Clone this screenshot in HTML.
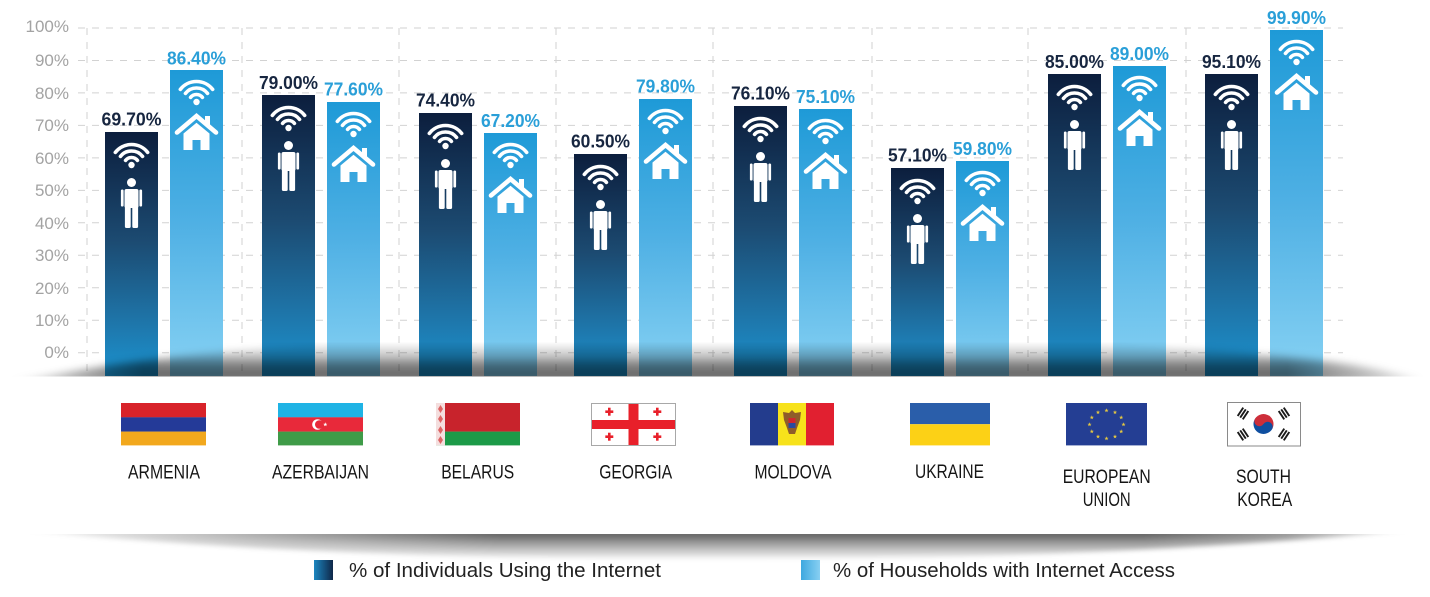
<!DOCTYPE html>
<html><head><meta charset="utf-8"><style>
html,body{margin:0;padding:0;background:#fff;}
svg{display:block;}
</style></head><body>
<svg width="1430" height="597" viewBox="0 0 1430 597" xmlns="http://www.w3.org/2000/svg">
<defs>
  <linearGradient id="gd" x1="0" y1="0" x2="0" y2="1">
    <stop offset="0" stop-color="#0c1e3d"/>
    <stop offset="0.45" stop-color="#1c4b72"/>
    <stop offset="0.8" stop-color="#1e78ad"/>
    <stop offset="1" stop-color="#1b92ce"/>
  </linearGradient>
  <linearGradient id="gl" x1="0" y1="0" x2="0" y2="1">
    <stop offset="0" stop-color="#1e9ad7"/>
    <stop offset="0.5" stop-color="#4fb0e4"/>
    <stop offset="1" stop-color="#86d1f3"/>
  </linearGradient>
  <linearGradient id="sd" x1="0" y1="0" x2="1" y2="0">
    <stop offset="0" stop-color="#1c86c0"/>
    <stop offset="1" stop-color="#0f2748"/>
  </linearGradient>
  <linearGradient id="sl" x1="0" y1="0" x2="1" y2="0">
    <stop offset="0" stop-color="#3ea8df"/>
    <stop offset="1" stop-color="#88cff2"/>
  </linearGradient>
  <linearGradient id="fsv" x1="0" y1="343" x2="0" y2="377" gradientUnits="userSpaceOnUse">
    <stop offset="0" stop-color="#000" stop-opacity="0.05"/>
    <stop offset="0.4" stop-color="#000" stop-opacity="0.22"/>
    <stop offset="0.65" stop-color="#000" stop-opacity="0.5"/>
    <stop offset="1" stop-color="#000" stop-opacity="0.6"/>
  </linearGradient>
  <linearGradient id="fh" x1="0" y1="0" x2="1430" y2="0" gradientUnits="userSpaceOnUse">
    <stop offset="0" stop-color="#000"/>
    <stop offset="0.1" stop-color="#fff"/>
    <stop offset="0.9" stop-color="#fff"/>
    <stop offset="1" stop-color="#000"/>
  </linearGradient>
  <mask id="fm"><rect x="0" y="300" width="1430" height="100" fill="url(#fh)"/></mask>
  <clipPath id="fc"><rect x="0" y="300" width="1430" height="76.5"/></clipPath>
  <filter id="fb" x="-5%" y="-50%" width="110%" height="200%"><feGaussianBlur stdDeviation="4"/></filter>
  <linearGradient id="bsv" x1="0" y1="534" x2="0" y2="560" gradientUnits="userSpaceOnUse">
    <stop offset="0" stop-color="#000" stop-opacity="0.62"/>
    <stop offset="0.3" stop-color="#000" stop-opacity="0.42"/>
    <stop offset="1" stop-color="#000" stop-opacity="0"/>
  </linearGradient>
  <linearGradient id="bh" x1="0" y1="0" x2="1430" y2="0" gradientUnits="userSpaceOnUse">
    <stop offset="0.007" stop-color="#000"/>
    <stop offset="0.18" stop-color="#888"/>
    <stop offset="0.35" stop-color="#fff"/>
    <stop offset="0.8" stop-color="#fff"/>
    <stop offset="0.9" stop-color="#aaa"/>
    <stop offset="0.993" stop-color="#000"/>
  </linearGradient>
  <mask id="bm"><rect x="0" y="520" width="1430" height="50" fill="url(#bh)"/></mask>
  <clipPath id="bc"><rect x="0" y="534" width="1430" height="40"/></clipPath>
  <filter id="bb" x="-5%" y="-50%" width="110%" height="200%"><feGaussianBlur stdDeviation="2.5"/></filter>

  <g id="wifi" fill="none" stroke="#fff" stroke-width="3.6" stroke-linecap="round">
    <path d="M -5.91 17.38 A 7.5 7.5 0 0 1 5.91 17.38"/>
    <path d="M -11.03 13.38 A 14 14 0 0 1 11.03 13.38"/>
    <path d="M -16.15 9.37 A 20.5 20.5 0 0 1 16.15 9.37"/>
    <circle cx="0" cy="22" r="3.2" fill="#fff" stroke="none"/>
  </g>
  <g id="person" fill="#fff">
    <circle cx="0" cy="4.5" r="4.5"/>
    <rect x="-7" y="11" width="14" height="19" rx="2"/>
    <rect x="-10.6" y="11.5" width="2.7" height="17" rx="1.3"/>
    <rect x="7.9" y="11.5" width="2.7" height="17" rx="1.3"/>
    <rect x="-6.6" y="28" width="5.8" height="22" rx="1.5"/>
    <rect x="0.8" y="28" width="5.8" height="22" rx="1.5"/>
  </g>
  <g id="house">
    <rect x="8.5" y="1" width="5" height="9" fill="#fff"/>
    <polyline points="-19.5,17.5 0,1 19.5,17.5" fill="none" stroke="#fff" stroke-width="4.6" stroke-linecap="round"/>
    <path d="M -13 18.5 L 0 7.8 L 13 18.5 L 13 35 L 4 35 L 4 25 L -4 25 L -4 35 L -13 35 Z" fill="#fff"/>
  </g>
  <polygon id="star" points="0,-2.2 0.53,-0.73 2.09,-0.68 0.86,0.28 1.29,1.78 0,0.9 -1.29,1.78 -0.86,0.28 -2.09,-0.68 -0.53,-0.73"/>
  <g id="tri" fill="#1a1a1a">
    <rect x="-5" y="-4" width="10" height="1.9"/>
    <rect x="-5" y="-0.95" width="10" height="1.9"/>
    <rect x="-5" y="2.1" width="10" height="1.9"/>
  </g>
</defs>

<!-- grid -->
<g stroke="#d2d2d2" stroke-width="1" stroke-dasharray="7 7" fill="none">
  <line x1="78" y1="28" x2="1343" y2="28"/>
  <line x1="78" y1="60.5" x2="1343" y2="60.5"/>
  <line x1="78" y1="92.9" x2="1343" y2="92.9"/>
  <line x1="78" y1="125.4" x2="1343" y2="125.4"/>
  <line x1="78" y1="157.9" x2="1343" y2="157.9"/>
  <line x1="78" y1="190.4" x2="1343" y2="190.4"/>
  <line x1="78" y1="222.8" x2="1343" y2="222.8"/>
  <line x1="78" y1="255.3" x2="1343" y2="255.3"/>
  <line x1="78" y1="287.8" x2="1343" y2="287.8"/>
  <line x1="78" y1="320.2" x2="1343" y2="320.2"/>
  <line x1="78" y1="352.7" x2="1343" y2="352.7"/>
  <line x1="87" y1="28" x2="87" y2="376"/>
  <line x1="242" y1="28" x2="242" y2="376"/>
  <line x1="399" y1="28" x2="399" y2="376"/>
  <line x1="556" y1="28" x2="556" y2="376"/>
  <line x1="713" y1="28" x2="713" y2="376"/>
  <line x1="872" y1="28" x2="872" y2="376"/>
  <line x1="1028" y1="28" x2="1028" y2="376"/>
  <line x1="1186" y1="28" x2="1186" y2="376"/>
</g>

<!-- y axis labels -->
<g font-family="Liberation Sans, Arial, sans-serif" font-size="17" fill="#a3a3a3" text-anchor="end">
  <text x="69" y="32">100%</text>
  <text x="69" y="66">90%</text>
  <text x="69" y="99">80%</text>
  <text x="69" y="131">70%</text>
  <text x="69" y="164">60%</text>
  <text x="69" y="196">50%</text>
  <text x="69" y="229">40%</text>
  <text x="69" y="261">30%</text>
  <text x="69" y="294">20%</text>
  <text x="69" y="326">10%</text>
  <text x="69" y="358">0%</text>
</g>

<!-- bars -->
<g>
  <rect x="105" y="132" width="53" height="244" fill="url(#gd)"/>
  <rect x="170" y="70" width="53" height="306" fill="url(#gl)"/>
  <rect x="262" y="95" width="53" height="281" fill="url(#gd)"/>
  <rect x="327" y="102" width="53" height="274" fill="url(#gl)"/>
  <rect x="419" y="113" width="53" height="263" fill="url(#gd)"/>
  <rect x="484" y="133" width="53" height="243" fill="url(#gl)"/>
  <rect x="574" y="154" width="53" height="222" fill="url(#gd)"/>
  <rect x="639" y="99" width="53" height="277" fill="url(#gl)"/>
  <rect x="734" y="106" width="53" height="270" fill="url(#gd)"/>
  <rect x="799" y="109" width="53" height="267" fill="url(#gl)"/>
  <rect x="891" y="168" width="53" height="208" fill="url(#gd)"/>
  <rect x="956" y="161" width="53" height="215" fill="url(#gl)"/>
  <rect x="1048" y="74" width="53" height="302" fill="url(#gd)"/>
  <rect x="1113" y="66" width="53" height="310" fill="url(#gl)"/>
  <rect x="1205" y="74" width="53" height="302" fill="url(#gd)"/>
  <rect x="1270" y="30" width="53" height="346" fill="url(#gl)"/>
</g>

<!-- icons -->
<g>
  <use href="#wifi" transform="translate(131.5,143)"/><use href="#person" transform="translate(131.5,178)"/>
  <use href="#wifi" transform="translate(196.5,80)"/><use href="#house" transform="translate(196.5,115)"/>
  <use href="#wifi" transform="translate(288.5,106)"/><use href="#person" transform="translate(288.5,141)"/>
  <use href="#wifi" transform="translate(353.5,112)"/><use href="#house" transform="translate(353.5,147)"/>
  <use href="#wifi" transform="translate(445.5,124)"/><use href="#person" transform="translate(445.5,159)"/>
  <use href="#wifi" transform="translate(510.5,143)"/><use href="#house" transform="translate(510.5,178)"/>
  <use href="#wifi" transform="translate(600.5,165)"/><use href="#person" transform="translate(600.5,200)"/>
  <use href="#wifi" transform="translate(665.5,109)"/><use href="#house" transform="translate(665.5,144)"/>
  <use href="#wifi" transform="translate(760.5,117)"/><use href="#person" transform="translate(760.5,152)"/>
  <use href="#wifi" transform="translate(825.5,119)"/><use href="#house" transform="translate(825.5,154)"/>
  <use href="#wifi" transform="translate(917.5,179)"/><use href="#person" transform="translate(917.5,214)"/>
  <use href="#wifi" transform="translate(982.5,171)"/><use href="#house" transform="translate(982.5,206)"/>
  <use href="#wifi" transform="translate(1074.5,85)"/><use href="#person" transform="translate(1074.5,120)"/>
  <use href="#wifi" transform="translate(1139.5,76)"/><use href="#house" transform="translate(1139.5,111)"/>
  <use href="#wifi" transform="translate(1231.5,85)"/><use href="#person" transform="translate(1231.5,120)"/>
  <use href="#wifi" transform="translate(1296.5,40)"/><use href="#house" transform="translate(1296.5,75)"/>
</g>

<!-- value labels -->
<g font-family="Liberation Sans, Arial, sans-serif" font-size="18.5" font-weight="bold" text-anchor="middle">
  <text x="131.5" y="125.5" fill="#172640" textLength="60" lengthAdjust="spacingAndGlyphs">69.70%</text>
  <text x="196.5" y="64.5" fill="#2a9fd8" textLength="59" lengthAdjust="spacingAndGlyphs">86.40%</text>
  <text x="288.5" y="89" fill="#172640" textLength="59" lengthAdjust="spacingAndGlyphs">79.00%</text>
  <text x="353.5" y="95.5" fill="#2a9fd8" textLength="59" lengthAdjust="spacingAndGlyphs">77.60%</text>
  <text x="445.5" y="106.5" fill="#172640" textLength="59" lengthAdjust="spacingAndGlyphs">74.40%</text>
  <text x="510.5" y="127" fill="#2a9fd8" textLength="59" lengthAdjust="spacingAndGlyphs">67.20%</text>
  <text x="600.5" y="147.5" fill="#172640" textLength="59" lengthAdjust="spacingAndGlyphs">60.50%</text>
  <text x="665.5" y="92.5" fill="#2a9fd8" textLength="59" lengthAdjust="spacingAndGlyphs">79.80%</text>
  <text x="760.5" y="99.5" fill="#172640" textLength="59" lengthAdjust="spacingAndGlyphs">76.10%</text>
  <text x="825.5" y="103" fill="#2a9fd8" textLength="59" lengthAdjust="spacingAndGlyphs">75.10%</text>
  <text x="917.5" y="161.5" fill="#172640" textLength="59" lengthAdjust="spacingAndGlyphs">57.10%</text>
  <text x="982.5" y="155" fill="#2a9fd8" textLength="59" lengthAdjust="spacingAndGlyphs">59.80%</text>
  <text x="1074.5" y="68" fill="#172640" textLength="59" lengthAdjust="spacingAndGlyphs">85.00%</text>
  <text x="1139.5" y="60" fill="#2a9fd8" textLength="59" lengthAdjust="spacingAndGlyphs">89.00%</text>
  <text x="1231.5" y="68" fill="#172640" textLength="59" lengthAdjust="spacingAndGlyphs">95.10%</text>
  <text x="1296.5" y="24" fill="#2a9fd8" textLength="59" lengthAdjust="spacingAndGlyphs">99.90%</text>
</g>

<!-- floor shadow -->
<g clip-path="url(#fc)">
  <g mask="url(#fm)">
    <path d="M 5 382 C 60 376, 140 352, 330 346 L 1100 346 C 1300 351, 1385 368, 1428 382 Z" fill="url(#fsv)" filter="url(#fb)"/>
  </g>
</g>

<!-- flags -->
<g>
  <!-- Armenia -->
  <rect x="121" y="403" width="85" height="14.4" fill="#d8232a"/>
  <rect x="121" y="417.3" width="85" height="14.4" fill="#243a98"/>
  <rect x="121" y="431.6" width="85" height="13.8" fill="#f2a81d"/>
  <!-- Azerbaijan -->
  <rect x="278" y="403" width="85" height="14.4" fill="#1fb3e5"/>
  <rect x="278" y="417.3" width="85" height="14.4" fill="#e8293a"/>
  <rect x="278" y="431.6" width="85" height="13.8" fill="#3f9b48"/>
  <circle cx="317.5" cy="424.5" r="5.3" fill="#fff"/>
  <circle cx="319.3" cy="424.5" r="4.3" fill="#e8293a"/>
  <use href="#star" x="325.3" y="424.5" fill="#fff"/>
  <!-- Belarus -->
  <rect x="436" y="403" width="84" height="28.7" fill="#c8232c"/>
  <rect x="436" y="431.6" width="84" height="13.8" fill="#1c9a48"/>
  <rect x="436" y="403" width="9" height="42.4" fill="#f4dede"/>
  <path d="M 440.5 405 L 443 409 L 440.5 413 L 438 409 Z M 440.5 415 L 443 419 L 440.5 423 L 438 419 Z M 440.5 426 L 443 430 L 440.5 434 L 438 430 Z M 440.5 436 L 443 440 L 440.5 444 L 438 440 Z" fill="#d66"/>
  <!-- Georgia -->
  <rect x="591.5" y="403.5" width="84" height="42" fill="#fff" stroke="#a8a8a8" stroke-width="1"/>
  <rect x="628.5" y="404" width="10" height="41" fill="#e8202a"/>
  <rect x="592" y="420" width="83" height="9" fill="#e8202a"/>
  <g fill="#e8202a">
    <rect x="605.3" y="410.4" width="8" height="2.6"/><rect x="608" y="407.7" width="2.6" height="8"/>
    <rect x="653.3" y="410.4" width="8" height="2.6"/><rect x="656" y="407.7" width="2.6" height="8"/>
    <rect x="605.3" y="435.4" width="8" height="2.6"/><rect x="608" y="432.7" width="2.6" height="8"/>
    <rect x="653.3" y="435.4" width="8" height="2.6"/><rect x="656" y="432.7" width="2.6" height="8"/>
  </g>
  <!-- Moldova -->
  <rect x="750" y="403" width="28" height="42.4" fill="#233c8d"/>
  <rect x="778" y="403" width="28" height="42.4" fill="#f7e21b"/>
  <rect x="806" y="403" width="28" height="42.4" fill="#e12030"/>
  <path d="M 792 410 L 795 413 L 801 412 L 800 420 L 797 428 L 795 434 L 789 434 L 787 428 L 784 420 L 783 412 L 789 413 Z" fill="#8f5d2a"/>
  <rect x="788.5" y="418" width="7" height="5" fill="#d0262e"/>
  <rect x="788.5" y="423" width="7" height="5" fill="#2a4aa0"/>
  <!-- Ukraine -->
  <rect x="910" y="403" width="80" height="21.2" fill="#2a5eaa"/>
  <rect x="910" y="424.2" width="80" height="21.2" fill="#fcd116"/>
  <!-- EU -->
  <rect x="1066" y="403" width="81" height="42.4" fill="#243e93"/>
  <g fill="#e6c840">
    <use href="#star" x="1106.5" y="410.5"/><use href="#star" x="1115" y="412.4"/>
    <use href="#star" x="1121.2" y="417.5"/><use href="#star" x="1123.5" y="424.5"/>
    <use href="#star" x="1121.2" y="431.5"/><use href="#star" x="1115" y="436.6"/>
    <use href="#star" x="1106.5" y="438.5"/><use href="#star" x="1098" y="436.6"/>
    <use href="#star" x="1091.8" y="431.5"/><use href="#star" x="1089.5" y="424.5"/>
    <use href="#star" x="1091.8" y="417.5"/><use href="#star" x="1098" y="412.4"/>
  </g>
  <!-- South Korea -->
  <rect x="1227.5" y="402.5" width="73" height="43.5" fill="#fff" stroke="#8a8a8a" stroke-width="1"/>
  <g transform="translate(1263.5,424) rotate(33.7)">
    <path d="M -10 0 A 10 10 0 0 1 10 0 Z" fill="#cd2e3a"/>
    <path d="M -10 0 A 10 10 0 0 0 10 0 Z" fill="#0f4fa0"/>
    <circle cx="-5" cy="0" r="5" fill="#cd2e3a"/>
    <circle cx="5" cy="0" r="5" fill="#0f4fa0"/>
  </g>
  <use href="#tri" transform="translate(1243,413.5) rotate(-56.3)"/>
  <use href="#tri" transform="translate(1284,434.5) rotate(-56.3)"/>
  <use href="#tri" transform="translate(1284,413.5) rotate(56.3)"/>
  <use href="#tri" transform="translate(1243,434.5) rotate(56.3)"/>
</g>

<!-- country labels -->
<g font-family="Liberation Sans, Arial, sans-serif" font-size="19" fill="#151515" text-anchor="middle">
  <text x="164" y="478.5" textLength="72" lengthAdjust="spacingAndGlyphs">ARMENIA</text>
  <text x="320.5" y="478.5" textLength="97" lengthAdjust="spacingAndGlyphs">AZERBAIJAN</text>
  <text x="477.7" y="478.5" textLength="73" lengthAdjust="spacingAndGlyphs">BELARUS</text>
  <text x="635.7" y="478.5" textLength="73" lengthAdjust="spacingAndGlyphs">GEORGIA</text>
  <text x="793" y="478.5" textLength="77" lengthAdjust="spacingAndGlyphs">MOLDOVA</text>
  <text x="949.5" y="478" textLength="69" lengthAdjust="spacingAndGlyphs">UKRAINE</text>
  <text x="1106.7" y="483" textLength="88" lengthAdjust="spacingAndGlyphs">EUROPEAN</text>
  <text x="1106.7" y="506" textLength="48" lengthAdjust="spacingAndGlyphs">UNION</text>
  <text x="1263.5" y="483" textLength="55" lengthAdjust="spacingAndGlyphs">SOUTH</text>
  <text x="1264.7" y="506" textLength="55" lengthAdjust="spacingAndGlyphs">KOREA</text>
</g>

<!-- bottom shadow -->
<g clip-path="url(#bc)">
  <g mask="url(#bm)">
    <path d="M 15 530 L 1415 530 C 1200 550, 1000 559, 715 560 C 430 559, 230 550, 15 530 Z" fill="url(#bsv)" filter="url(#bb)"/>
  </g>
</g>

<!-- legend -->
<rect x="314" y="560" width="19" height="20" fill="url(#sd)"/>
<rect x="801" y="560" width="19" height="20" fill="url(#sl)"/>
<g font-family="Liberation Sans, Arial, sans-serif" font-size="20" fill="#222">
  <text x="349" y="577" textLength="312" lengthAdjust="spacingAndGlyphs">% of Individuals Using the Internet</text>
  <text x="833" y="577" textLength="342" lengthAdjust="spacingAndGlyphs">% of Households with Internet Access</text>
</g>
</svg>
</body></html>
